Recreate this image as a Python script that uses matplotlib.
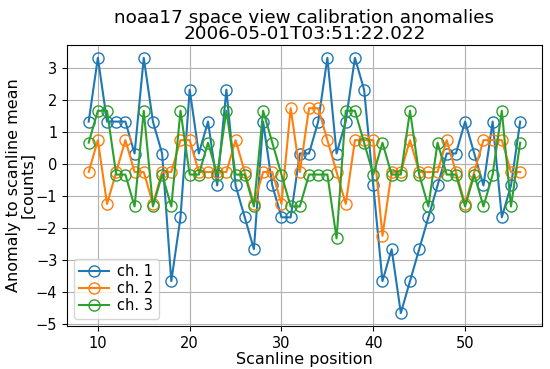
import numpy as np
import matplotlib
matplotlib.use("Agg")
import matplotlib.pyplot as plt

# scanline positions
positions = list(range(9, 57))

# anomaly to scanline mean per channel [counts]
ch1 = [1.33, 3.33, 1.33, 1.33, 1.33, 0.33, 3.33, 1.33, 0.33, -3.67,
       -1.67, 2.33, 0.33, 1.33, -0.67, 2.33, -0.67, -1.67, -2.67, 1.33,
       -0.67, -1.67, -1.67, 0.33, 0.33, 1.33, 3.33, 0.33, 1.33, 3.33,
       2.33, -0.67, -3.67, -2.67, -4.67, -3.67, -2.67, -1.67, -0.67, 0.33,
       0.33, 1.33, 0.33, -0.67, 1.33, -1.67, -0.67, 1.33]
ch2 = [-0.25, 0.75, -1.25, -0.25, 0.75, -0.25, -0.25, -1.25, -0.25, -0.25,
       0.75, 0.75, -0.25, -0.25, -0.25, -0.25, 0.75, -0.25, -1.25, -0.25,
       -0.25, -1.25, 1.75, -0.25, 1.75, 1.75, 0.75, -0.25, -1.25, 0.75,
       0.75, 0.75, -2.25, -0.25, -0.25, 0.75, -0.25, -0.25, -0.25, 0.75,
       -0.25, -1.25, -0.25, 0.75, 0.75, 0.75, -0.25, -0.25]
ch3 = [0.67, 1.67, 1.67, -0.33, -0.33, -1.33, 1.67, -1.33, -0.33, -1.33,
       1.67, -0.33, -0.33, 0.67, -0.33, 1.67, -0.33, -0.33, -1.33, 1.67,
       0.67, -0.33, -1.33, -1.33, -0.33, -0.33, -0.33, -2.33, 1.67, 1.67,
       0.67, -0.33, 0.67, -0.33, -0.33, 1.67, -0.33, -1.33, 0.67, -0.33,
       -0.33, -1.33, -0.33, -1.33, -0.33, 1.67, -1.33, 0.67]

labels = ["ch. 1", "ch. 2", "ch. 3"]

fig, ax = plt.subplots(figsize=(5.5, 3.69), dpi=100)
fig.subplots_adjust(left=0.122, right=0.985, top=0.878, bottom=0.117)

for vals, lab in zip([ch1, ch2, ch3], labels):
    ax.plot(positions, vals, marker="o", mfc="none", markersize=8,
            linewidth=1.5, label=lab)

ax.set_title("noaa17 space view calibration anomalies\n2006-05-01T03:51:22.022",
             fontsize=13.2, linespacing=0.9, pad=4)
ax.set_xlabel("Scanline position", fontsize=11.5, labelpad=1)
ax.set_ylabel("Anomaly to scanline mean\n[counts]", fontsize=11.5,
              linespacing=0.95)
ax.yaxis.set_label_coords(-0.066, 0.5)
ax.tick_params(labelsize=10.5)
ax.grid(True)
ax.legend(loc="lower left", fontsize=10.5, labelspacing=0.15,
          handletextpad=0.6, borderpad=0.35)

fig.savefig("out.png")
